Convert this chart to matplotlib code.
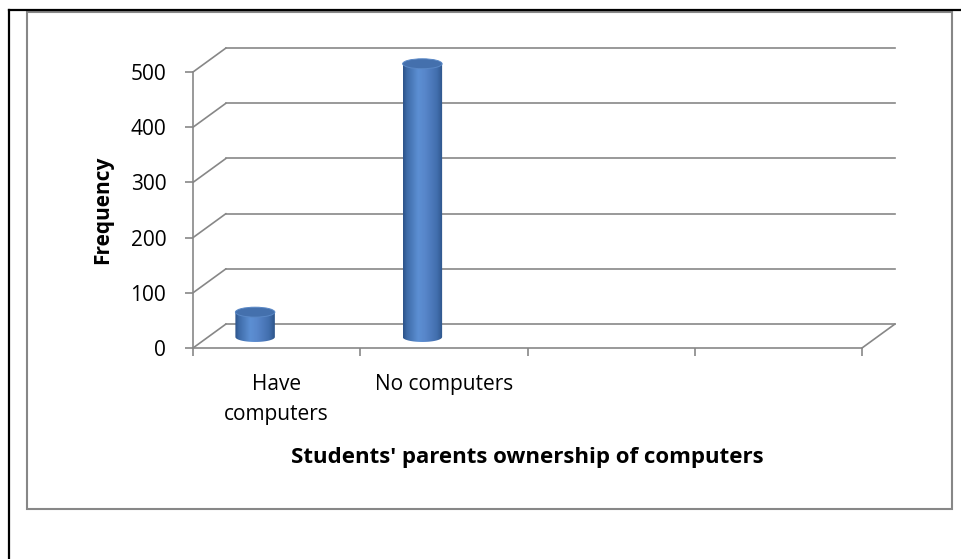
import numpy as np
import matplotlib.pyplot as plt
from matplotlib.colors import LinearSegmentedColormap
from matplotlib.patches import Ellipse, Polygon, Rectangle, ConnectionPatch
from matplotlib.lines import Line2D
from matplotlib.transforms import Affine2D

# survey counts
categories = ['Have\ncomputers', 'No computers']
frequency = [45, 495]
n_slots = 4
yticks = [0, 100, 200, 300, 400, 500]

plt.rcParams['font.family'] = ['Open Sans', 'DejaVu Sans']
fs = 15

W, H = 961, 559
fig = plt.figure(figsize=(W / 100, H / 100), dpi=100)

# front face of the 3-D plot box, in pixels
px0, px1, ptop, pbot = 193, 862, 72, 348
ax = fig.add_axes([px0 / W, 1 - pbot / H, (px1 - px0) / W, (pbot - ptop) / H])
ax.patch.set_visible(False)

grey = '#878787'
lw = 1.2

# back wall sits up and to the right of the front face
back = ax.transData + Affine2D().translate(33, 24)
# the cylinders stand half way into the box
mid = ax.transData + Affine2D().translate(-21.5, 11)

for v in yticks:
    ax.plot([0, n_slots], [v, v], transform=back, color=grey, lw=lw, clip_on=False)
    con = ConnectionPatch((0, v), (0, v), coordsA=ax.transData, coordsB=back,
                          color=grey, lw=lw, clip_on=False)
    ax.add_artist(con)
con = ConnectionPatch((n_slots, 0), (n_slots, 0), coordsA=ax.transData, coordsB=back,
                      color=grey, lw=lw, clip_on=False)
ax.add_artist(con)

# cylinder shading, dark edges and a bright band left of centre
cyl = LinearSegmentedColormap.from_list('cyl', [
    (0.0, '#2c5288'), (0.1, '#3e6ba8'), (0.38, '#5c8fd3'),
    (0.55, '#5887cb'), (0.85, '#426fae'), (1.0, '#2d5489')])
grad = np.linspace(0, 1, 256).reshape(1, -1)

bar_w = 0.236
cap_h = 18
for i, v in enumerate(frequency):
    c = i + 0.5
    t = np.linspace(np.pi, 2 * np.pi, 40)
    pts = np.column_stack([c + bar_w / 2 * np.cos(t), cap_h / 2 * np.sin(t)])
    pts = np.vstack([pts, [c + bar_w / 2, v], [c - bar_w / 2, v]])
    body = Polygon(pts, closed=True, transform=mid, fc='none', ec='none')
    im = ax.imshow(grad, cmap=cyl, aspect='auto', interpolation='bicubic',
                   extent=(c - bar_w / 2, c + bar_w / 2, -cap_h / 2, v),
                   transform=mid, zorder=3)
    im.set_clip_box(fig.bbox)
    im.set_clip_path(body)
    top = Ellipse((c, v), bar_w, cap_h, transform=mid, fc='#4470ad',
                  ec='#5a88c6', lw=0.7, zorder=4, clip_on=False)
    ax.add_patch(top)

ax.set_xlim(0, n_slots)
ax.set_ylim(0, 500)

for s in ['top', 'right']:
    ax.spines[s].set_visible(False)
for s in ['left', 'bottom']:
    ax.spines[s].set_color(grey)
    ax.spines[s].set_linewidth(lw)

ax.set_yticks(yticks)
ax.tick_params(axis='y', length=5.8, width=lw, color=grey, pad=13.5, labelsize=fs)
ax.set_xticks(range(n_slots + 1))
ax.set_xticklabels([])
ax.tick_params(axis='x', which='major', length=5.8, width=lw, color=grey)
ax.set_xticks([i + 0.5 for i in range(len(categories))], minor=True)
ax.set_xticklabels(categories, minor=True)
ax.tick_params(axis='x', which='minor', length=0, pad=18.5, labelsize=fs)
for lab in ax.get_xticklabels(minor=True):
    lab.set_linespacing(1.6)

ax.set_ylabel('Frequency', fontsize=fs, fontweight='bold')
ax.yaxis.set_label_coords((103 - px0) / (px1 - px0), (pbot - 210) / (pbot - ptop))
ax.yaxis.label.set_va('center')
ax.set_xlabel("Students' parents ownership of computers", fontsize=16, fontweight='bold')
ax.xaxis.set_label_coords((527 - px0) / (px1 - px0), (pbot - 458) / (pbot - ptop))
ax.xaxis.label.set_va('center')

# chart frame and page border
fig.add_artist(Rectangle((27 / W, 1 - 509 / H), (952 - 27) / W, (509 - 12) / H,
                         transform=fig.transFigure, fill=False, ec=grey, lw=1.5))
fig.add_artist(Line2D([9 / W, 1], [1 - 10 / H, 1 - 10 / H], transform=fig.transFigure,
                      color='black', lw=1.6))
fig.add_artist(Line2D([9 / W, 9 / W], [0, 1 - 10 / H], transform=fig.transFigure,
                      color='black', lw=1.6))

fig.savefig('out.png', dpi=100)
